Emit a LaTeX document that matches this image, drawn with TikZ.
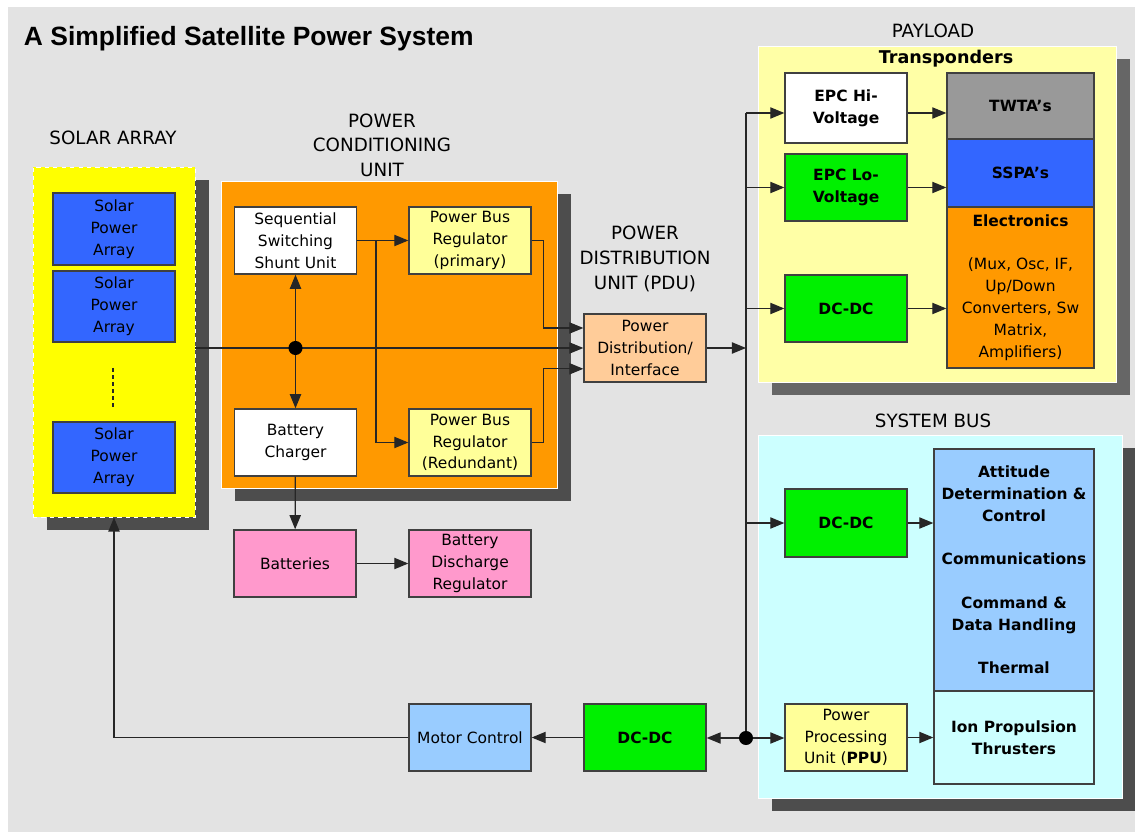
\documentclass[tikz,border=0pt]{standalone}
\usepackage{fontspec}
\setmainfont{DejaVu Sans}
\newfontfamily\titlefont{Liberation Sans}
\usepackage{xcolor}
\usepackage{tikz}
\usetikzlibrary{arrows.meta,positioning,shadows,calc}

\definecolor{bggray}{HTML}{E3E3E3}
\definecolor{shadowgray}{HTML}{4D4D4D}
\definecolor{solaryellow}{HTML}{FFFF00}
\definecolor{cellblue}{HTML}{3366FF}
\definecolor{pcuorange}{HTML}{FF9900}
\definecolor{regyellow}{HTML}{FFFF99}
\definecolor{pdupeach}{HTML}{FFCC99}
\definecolor{payloadyellow}{HTML}{FFFFA6}
\definecolor{dcgreen}{HTML}{00F000}
\definecolor{twtagray}{HTML}{999999}
\definecolor{buscyan}{HTML}{CCFFFF}
\definecolor{subsysblue}{HTML}{99CCFF}
\definecolor{battpink}{HTML}{FF99CC}

\newcommand{\apos}{{\char"0027}}

\begin{document}
\begin{tikzpicture}[
    x=0.025cm, y=-0.025cm,
    box/.style={draw=black!75, line width=0.9pt, minimum width=3.05cm, minimum height=1.68cm,
                align=center, inner sep=1pt, font=\fontsize{11}{15.5}\selectfont},
    boldbox/.style={box, font=\fontsize{11}{15.5}\selectfont\bfseries},
    panel/.style={draw=white, line width=0.6pt,
                  general shadow={fill=shadowgray, shadow xshift=0.35cm, shadow yshift=-0.33cm}},
    grouplabel/.style={align=center, font=\fontsize{13}{17.5}\selectfont},
    line/.style={draw=black!85, line width=0.9pt},
    arrow/.style={line, -{Triangle[length=10pt,width=8pt]}}
]
    % page and grey backdrop
    \useasboundingbox (0,0) rectangle (1135,832);
    \fill[white] (0,0) rectangle (1135,832);
    \fill[bggray] (8,7) rectangle (1135,832);

    \node[anchor=west] (title) at (19,39)
        {\titlefont\bfseries\fontsize{18.8}{23}\selectfont A Simplified Satellite Power System};

    % group panels
    \node[panel, fill=solaryellow, draw=white, dashed, minimum width=4.05cm, minimum height=8.75cm]
        (solar) at (114,342) {};
    \node[panel, fill=pcuorange, minimum width=8.4cm, minimum height=7.675cm] (pcu) at (389,334.5) {};
    \node[panel, fill=payloadyellow, minimum width=8.95cm, minimum height=8.4cm,
          general shadow={fill=black!60, shadow xshift=0.35cm, shadow yshift=-0.33cm}] (payload) at (937,214) {};
    \node[panel, fill=buscyan, minimum width=9.1cm, minimum height=9.075cm] (sysbus) at (940,616.5) {};

    % group titles
    \node[grouplabel] (solarlbl) at (113,138) {SOLAR ARRAY};
    \node[grouplabel] (pculbl) at (382,145) {POWER\\CONDITIONING\\UNIT};
    \node[grouplabel] (pdulbl) at (645,259) {POWER\\DISTRIBUTION\\UNIT (PDU)};
    \node[grouplabel] (payloadlbl) at (933,31) {PAYLOAD};
    \node[grouplabel] (sysbuslbl) at (933,421) {SYSTEM BUS};
    \node[font=\fontsize{12.5}{15}\selectfont\bfseries] (xpdr) at (946,59) {Transponders};

    % solar array cells
    \node[box, fill=cellblue, minimum height=1.8cm] (sa1) at (114,229) {Solar\\Power\\Array};
    \node[box, fill=cellblue, minimum height=1.775cm] (sa2) at (114,306.5) {Solar\\Power\\Array};
    \node[box, fill=cellblue, minimum height=1.775cm] (sa3) at (114,457.5) {Solar\\Power\\Array};
    \draw[line, line width=1.3pt, dash pattern=on 3pt off 2pt] (113,368) -- (113,407);

    % power conditioning unit
    \node[box, fill=white] (sssu) at (295.5,240.5) {Sequential\\Switching\\Shunt Unit};
    \node[box, fill=regyellow] (pbrp) at (470,240.5) {Power Bus\\Regulator\\(primary)};
    \node[box, fill=white] (bchg) at (295.5,442.5) {Battery\\Charger};
    \node[box, fill=regyellow] (pbrr) at (470,442.5) {Power Bus\\Regulator\\(Redundant)};

    % batteries
    \node[box, fill=battpink] (batt) at (295,563.5) {Batteries};
    \node[box, fill=battpink] (bdr) at (470,563.5) {Battery\\Discharge\\Regulator};

    % distribution
    \node[box, fill=pdupeach, minimum height=1.7cm] (pdu) at (645,348) {Power\\Distribution/\\Interface};

    % payload
    \node[boldbox, fill=white, minimum height=1.75cm] (epchi) at (846,108) {EPC Hi-\\Voltage};
    \node[boldbox, fill=dcgreen] (epclo) at (846,187.5) {EPC Lo-\\Voltage};
    \node[boldbox, fill=dcgreen] (dcpay) at (846,308.5) {DC-DC};
    \node[boldbox, fill=twtagray, minimum width=3.675cm, minimum height=1.65cm] (twta) at (1020.5,106) {TWTA\apos s};
    \node[boldbox, fill=cellblue, minimum width=3.675cm, minimum height=1.7cm] (sspa) at (1020.5,173) {SSPA\apos s};
    \node[box, fill=pcuorange, minimum width=3.675cm, minimum height=4.025cm] (elec) at (1020.5,287.5)
        {\textbf{Electronics}\\[15.5pt](Mux, Osc, IF,\\Up/Down\\Converters, Sw\\Matrix,\\Amplifiers)};

    % system bus
    \node[boldbox, fill=dcgreen, minimum height=1.7cm] (dcsys) at (846,523) {DC-DC};
    \node[boldbox, fill=subsysblue, minimum width=4cm, minimum height=6.05cm] (att) at (1014,570)
        {Attitude\\Determination \&\\Control\\[15.5pt]Communications\\[15.5pt]Command \&\\Data Handling\\[15.5pt]Thermal};
    \node[boldbox, fill=buscyan, minimum width=4cm, minimum height=2.325cm] (ion) at (1014,737.5)
        {Ion Propulsion\\Thrusters};
    \node[box, fill=regyellow] (ppu) at (846,737.5) {Power\\Processing\\Unit (\textbf{PPU})};

    % array drive
    \node[boldbox, fill=dcgreen] (dcbot) at (645,737.5) {DC-DC};
    \node[box, fill=subsysblue] (motor) at (470,737.5) {Motor Control};

    % main power line through the PCU
    \coordinate (jn) at (sssu |- pdu.west);
    \draw[arrow] (solar.east |- pdu.west) -- (pdu.west);
    \draw[arrow] (jn) -- (sssu);
    \draw[arrow] (jn) -- (bchg);
    \fill (jn) circle[radius=5pt];

    % shunt unit feeds both regulators
    \draw[arrow] (sssu) -- (pbrp);
    \coordinate (br) at (376,240.5);
    \draw[arrow] (br) |- (pbrr);
    \draw[arrow] (pbrp.east) -- ++(12,0) |- ([yshift=0.5cm]pdu.west);
    \draw[arrow] (pbrr.east) -- ++(12,0) |- ([yshift=-0.52cm]pdu.west);

    \draw[arrow] (bchg) -- (batt);
    \draw[arrow] (batt) -- (bdr);

    % distribution bus
    \coordinate (bustop) at (746,113);
    \coordinate (busbot) at (746,738);
    \draw[line] (bustop) -- (busbot);
    \draw[arrow] (pdu.east) -- (pdu.east -| bustop);
    \draw[arrow] (bustop) -- (bustop -| epchi.west);
    \draw[arrow] (bustop |- epclo) -- (epclo);
    \draw[arrow] (bustop |- dcpay) -- (dcpay);
    \draw[arrow] (bustop |- dcsys) -- (dcsys);
    \draw[arrow] (busbot) -- (busbot -| ppu.west);
    \draw[arrow] (busbot) -- (busbot -| dcbot.east);
    \fill (busbot) circle[radius=5pt];

    \draw[arrow] (epchi.east |- bustop) -- (bustop -| twta.west);
    \draw[arrow] (epclo.east) -- (epclo.east -| sspa.west);
    \draw[arrow] (dcpay.east) -- (dcpay.east -| elec.west);
    \draw[arrow] (dcsys.east) -- (dcsys.east -| att.west);
    \draw[arrow] (ppu.east) -- (ppu.east -| ion.west);

    % solar array drive loop
    \draw[arrow] (dcbot) -- (motor);
    \draw[arrow] (motor.west) -| (solar.south);
\end{tikzpicture}
\end{document}
